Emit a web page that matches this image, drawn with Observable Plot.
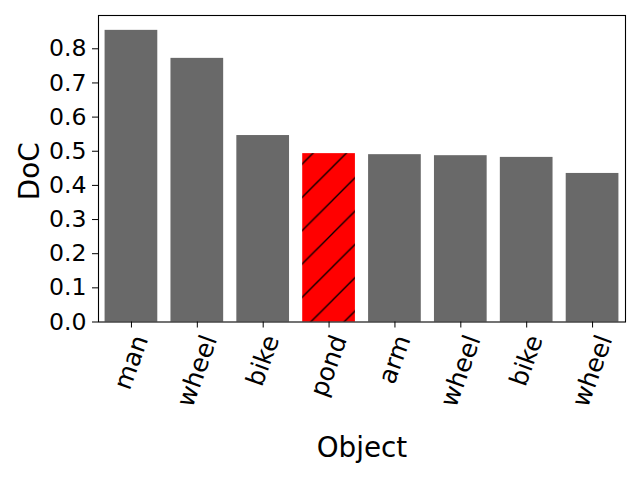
<!DOCTYPE html>
<html>
<head>
<meta charset="utf-8">
<script src="https://cdn.jsdelivr.net/npm/d3@7"></script>
<script src="https://cdn.jsdelivr.net/npm/@observablehq/plot@0.6"></script>
<style>
  html, body { margin: 0; padding: 0; background: #fff; }
  #chart { position: absolute; left: 0; top: 0; }
</style>
</head>
<body>
<div id="chart"></div>
<script>
const objects = ["man", "wheel", "bike", "pond", "arm", "wheel", "bike", "wheel"];
const doc = [0.854, 0.772, 0.546, 0.493, 0.490, 0.487, 0.482, 0.435];
const highlightIndex = 3;
const yTicks = [0, 0.1, 0.2, 0.3, 0.4, 0.5, 0.6, 0.7, 0.8];
const xLabel = "Object";
const yLabel = "DoC";

const idx = objects.map((_, i) => i);

const plot = Plot.plot({
  width: 640,
  height: 480,
  marginLeft: 98,
  marginRight: 15,
  marginTop: 15,
  marginBottom: 158.5,
  style: {fontFamily: "DejaVu Sans", fontSize: "23.6px", color: "black", background: "white"},
  x: {domain: idx, paddingInner: 0.2, paddingOuter: 0.1, round: false},
  y: {domain: [0, 0.8975]},
  marks: [
    Plot.barY(idx, {x: i => i, y: i => doc[i], fill: i => i === highlightIndex ? "#ff0000" : "#696969"}),
    Plot.barY([highlightIndex], {x: i => i, y: i => doc[i], fill: "url(#hatch)"}),
    Plot.frame({stroke: "black", strokeWidth: 1.1}),
    Plot.axisY({ticks: yTicks, tickFormat: d => d.toFixed(1), tickSize: 6, tickPadding: 6, fontSize: 23.6, label: null}),
    Plot.axisX({tickFormat: i => objects[i], tickRotate: -70, tickSize: 6, fontSize: 25, label: null}),
    Plot.text([yLabel], {frameAnchor: "left", textAnchor: "middle", dx: -68, dy: 2.5, rotate: -90, fontSize: 27.8, lineAnchor: "middle"}),
    Plot.text([xLabel], {frameAnchor: "bottom", textAnchor: "middle", dy: 126.3, fontSize: 27.8, lineAnchor: "middle"})
  ]
});

document.getElementById("chart").appendChild(plot);

// hatch pattern
const ns = "http://www.w3.org/2000/svg";
const defs = document.createElementNS(ns, "defs");
defs.innerHTML = `<pattern id="hatch" patternUnits="userSpaceOnUse" width="33.3" height="33.3">
  <line x1="0" y1="33.3" x2="33.3" y2="0" stroke="black" stroke-width="1.3"/>
  <line x1="-3" y1="3" x2="3" y2="-3" stroke="black" stroke-width="1.3"/>
  <line x1="30.3" y1="36.3" x2="36.3" y2="30.3" stroke="black" stroke-width="1.3"/>
</pattern>`;
plot.insertBefore(defs, plot.firstChild);

// center rotated x tick labels under ticks (bbox centered, top aligned)
const xs = plot.scale("x");
const y0 = plot.scale("y").apply(0);
const labels = plot.querySelectorAll('g[aria-label="x-axis tick label"] text');
const svgRect = plot.getBoundingClientRect();
labels.forEach((el, k) => {
  const cx = xs.apply(idx[k]) + xs.bandwidth / 2;
  const r = el.getBoundingClientRect();
  const dx = cx - ((r.left + r.right) / 2 - svgRect.left);
  const dy = (y0 + 9.7) - (r.top - svgRect.top);
  const t = el.getAttribute("transform") || "";
  el.setAttribute("transform", `translate(${dx},${dy}) ` + t);
});
</script>
</body>
</html>
